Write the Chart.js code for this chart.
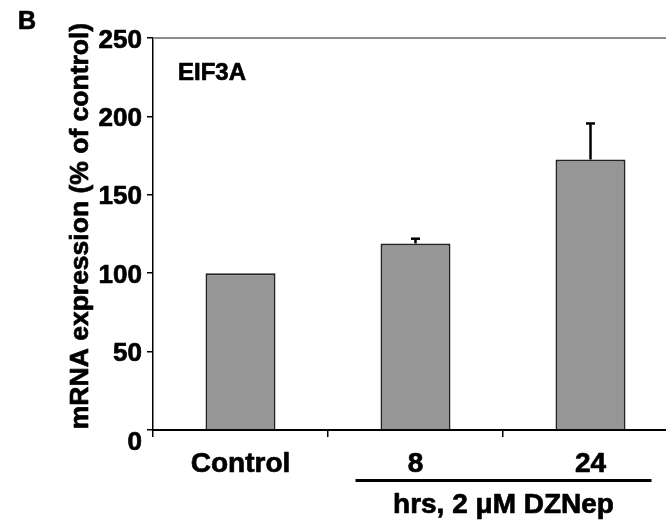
<!DOCTYPE html>
<html><head><meta charset="utf-8">
<script src="https://cdn.jsdelivr.net/npm/chart.js@4.4.0/dist/chart.umd.min.js"></script>
<style>html,body{margin:0;padding:0;overflow:hidden;background:#fff}#wrap{width:678px;height:528px}</style>
</head><body><div id="wrap"><canvas id="c" width="678" height="528"></canvas></div>
<script>
const categories = ['Control', '8', '24'];
const values = [100, 119, 172.5];
const errors = [0, 3, 23];
const yTicks = [0, 50, 100, 150, 200, 250];
const panelLabel = 'B';
const geneLabel = 'EIF3A';
const yTitle = 'mRNA expression (% of control)';
const groupLabel = 'hrs, 2 \u03BCM DZNep';
const FONT = '"Liberation Sans", Arial, sans-serif';

function txt(ctx, s, x, y) {
  ctx.fillText(s, x, y);
  ctx.strokeText(s, x, y);
}

const deco = {
  id: 'deco',
  afterDatasetsDraw(chart) {
    const ctx = chart.ctx, y = chart.scales.y;
    const meta = chart.getDatasetMeta(0);
    ctx.save();
    ctx.strokeStyle = '#000'; ctx.lineWidth = 2.5;
    values.forEach((v, i) => {
      if (!errors[i]) return;
      const cx = meta.data[i].x;
      const top = y.getPixelForValue(v + errors[i]);
      const base = y.getPixelForValue(v);
      ctx.beginPath(); ctx.moveTo(cx, base); ctx.lineTo(cx, top); ctx.stroke();
      ctx.beginPath(); ctx.moveTo(cx - 4.5, top); ctx.lineTo(cx + 4.5, top); ctx.stroke();
    });
    ctx.restore();
  },
  afterDraw(chart) {
    const ctx = chart.ctx, x = chart.scales.x, y = chart.scales.y, a = chart.chartArea;
    ctx.save();
    ctx.strokeStyle = '#8c8c8c'; ctx.lineWidth = 2;
    ctx.beginPath(); ctx.moveTo(a.left, a.top); ctx.lineTo(a.right, a.top); ctx.stroke();
    ctx.fillStyle = '#000'; ctx.strokeStyle = '#000'; ctx.lineWidth = 0.7; ctx.lineJoin = 'round';
    ctx.font = 'bold 26px ' + FONT; ctx.textAlign = 'right'; ctx.textBaseline = 'alphabetic';
    yTicks.forEach(t => {
      const py = y.getPixelForValue(t);
      txt(ctx, String(t), 142, t === 0 ? py + 20 : py + 9.5);
    });
    ctx.font = 'bold 28px ' + FONT; ctx.textAlign = 'center';
    categories.forEach((c, i) => txt(ctx, c, x.getPixelForValue(i), 472));
    const x1 = x.getPixelForValue(1), x2 = x.getPixelForValue(2);
    ctx.save();
    ctx.lineWidth = 3;
    ctx.beginPath(); ctx.moveTo(x1 - 60, 480.5); ctx.lineTo(x2 + 61, 480.5); ctx.stroke();
    ctx.restore();
    ctx.font = 'bold 28px ' + FONT;
    txt(ctx, groupLabel, (x1 - 60 + x2 + 61) / 2, 513);
    ctx.textAlign = 'left';
    ctx.font = 'bold 24px ' + FONT; txt(ctx, geneLabel, 178, 80);
    ctx.font = 'bold 25px ' + FONT; txt(ctx, panelLabel, 18, 29);
    ctx.save();
    ctx.translate(88, 226); ctx.rotate(-Math.PI / 2);
    ctx.textAlign = 'center'; ctx.font = 'bold 26.5px ' + FONT;
    txt(ctx, yTitle, 0, 0);
    ctx.restore();
    ctx.restore();
  }
};

new Chart(document.getElementById('c'), {
  type: 'bar',
  data: {
    labels: categories,
    datasets: [{
      data: values,
      backgroundColor: '#969696',
      borderColor: '#222',
      borderWidth: 2,
      categoryPercentage: 1,
      barPercentage: 0.4
    }]
  },
  options: {
    responsive: false,
    animation: false,
    devicePixelRatio: 1,
    layout: { padding: { top: 38, right: 0, left: 0, bottom: 0 } },
    plugins: { legend: { display: false }, tooltip: { enabled: false } },
    scales: {
      x: {
        grid: { offset: true, drawOnChartArea: false, drawTicks: true, tickLength: 7, color: '#000', lineWidth: 1.5 },
        border: { color: '#000', width: 2 },
        ticks: { display: false },
        afterFit(s) { s.height = 98; }
      },
      y: {
        min: 0, max: 250,
        afterBuildTicks(s) { s.ticks = yTicks.map(v => ({ value: v })); },
        grid: { drawOnChartArea: false, drawTicks: true, tickLength: 6, color: '#000', lineWidth: 1.5 },
        border: { color: '#000', width: 1.5 },
        ticks: { display: false },
        afterFit(s) { s.width = 153; }
      }
    }
  },
  plugins: [deco]
});
</script>
</body></html>
